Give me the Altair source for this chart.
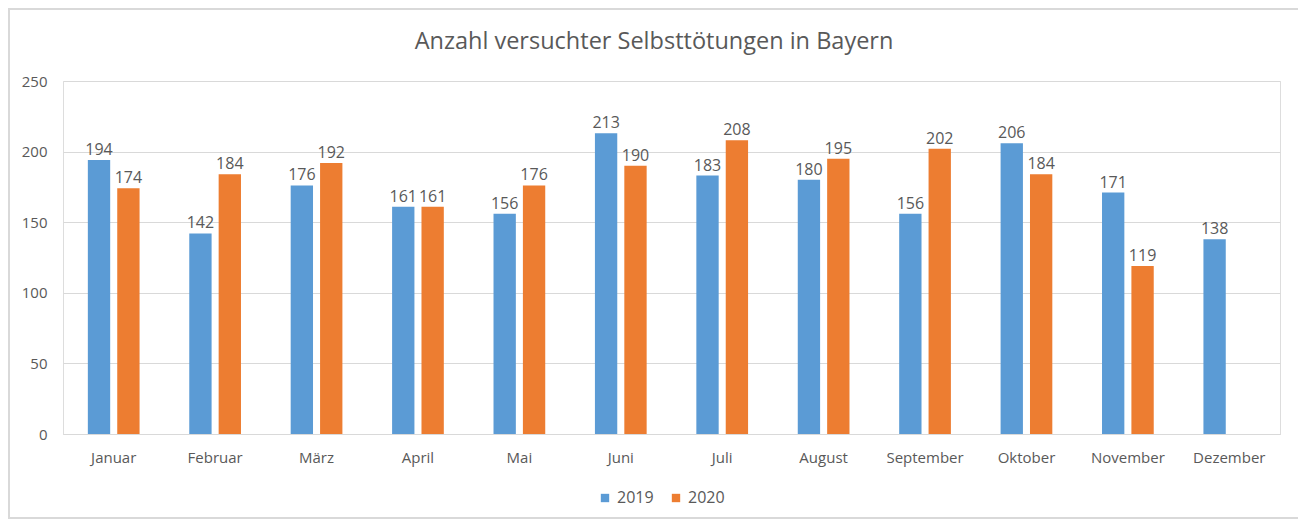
import altair as alt
import pandas as pd

months = ["Januar", "Februar", "März", "April", "Mai", "Juni", "Juli",
          "August", "September", "Oktober", "November", "Dezember"]
v2019 = [194, 142, 176, 161, 156, 213, 183, 180, 156, 206, 171, 138]
v2020 = [174, 184, 192, 161, 176, 190, 208, 195, 202, 184, 119, None]
years = ["2019", "2020"]
colors = ["#5B9BD5", "#ED7D31"]
y_ticks = [0, 50, 100, 150, 200, 250]
title_text = "Anzahl versuchter Selbsttötungen in Bayern"

rows = []
for i, m in enumerate(months):
    rows.append({"Monat": m, "Jahr": "2019", "Wert": v2019[i]})
    rows.append({"Monat": m, "Jahr": "2020", "Wert": v2020[i]})
df = pd.DataFrame(rows)

FONT = "Open Sans"
TXT = "#595959"
W, H = 1217, 353

x = alt.X("Monat:N", sort=months, title=None,
          scale=alt.Scale(paddingInner=0.49, paddingOuter=0.245),
          axis=alt.Axis(labelAngle=0, ticks=False, domainColor="#d9d9d9",
                        labelPadding=16, labelFontSize=15, labelColor=TXT,
                        labelFont=FONT))
xo = alt.XOffset("Jahr:N", sort=years,
                 scale=alt.Scale(paddingInner=0.24, paddingOuter=0))
y = alt.Y("Wert:Q", title=None,
          scale=alt.Scale(domain=[0, 250], nice=False),
          axis=alt.Axis(values=y_ticks, domain=False, ticks=False,
                        labelPadding=16, labelFontSize=15, labelColor=TXT,
                        labelFont=FONT, gridColor="#d9d9d9"))

base = alt.Chart(df)

bars = base.mark_bar().encode(
    x=x, xOffset=xo, y=y,
    color=alt.Color("Jahr:N", sort=years,
                    scale=alt.Scale(domain=years, range=colors),
                    legend=alt.Legend(title=None, orient="none", direction="horizontal",
                                      legendX=534, legendY=409,
                                      symbolType="square", symbolSize=70,
                                      symbolStrokeWidth=0,
                                      labelFontSize=16, labelColor=TXT,
                                      labelFont=FONT, columnPadding=14,
                                      labelOffset=4, padding=0))
)

labels = base.mark_text(baseline="bottom", dy=-2, fontSize=16,
                        color=TXT, font=FONT).encode(
    x=x, xOffset=xo, y=y, text=alt.Text("Wert:Q")
)

one = pd.DataFrame({"t": [title_text]})

frame = alt.Chart(one).mark_rect(
    fill="transparent", stroke="#d9d9d9", strokeWidth=2
).encode(
    x=alt.value(-54), x2=alt.value(1236),
    y=alt.value(-72), y2=alt.value(437)
)

title = alt.Chart(one).mark_text(
    font=FONT, fontSize=23.5, color=TXT, baseline="middle", align="center"
).encode(
    x=alt.value(591), y=alt.value(-39), text="t:N"
)

chart = alt.layer(frame, bars, labels, title).properties(
    width=W, height=H,
    autosize=alt.AutoSizeParams(type="none"),
    padding={"left": 55, "top": 73, "right": 18, "bottom": 85},
).configure_view(stroke=None).configure(background="white")

chart.save("out.html", embed_options={"renderer": "svg", "actions": False})
